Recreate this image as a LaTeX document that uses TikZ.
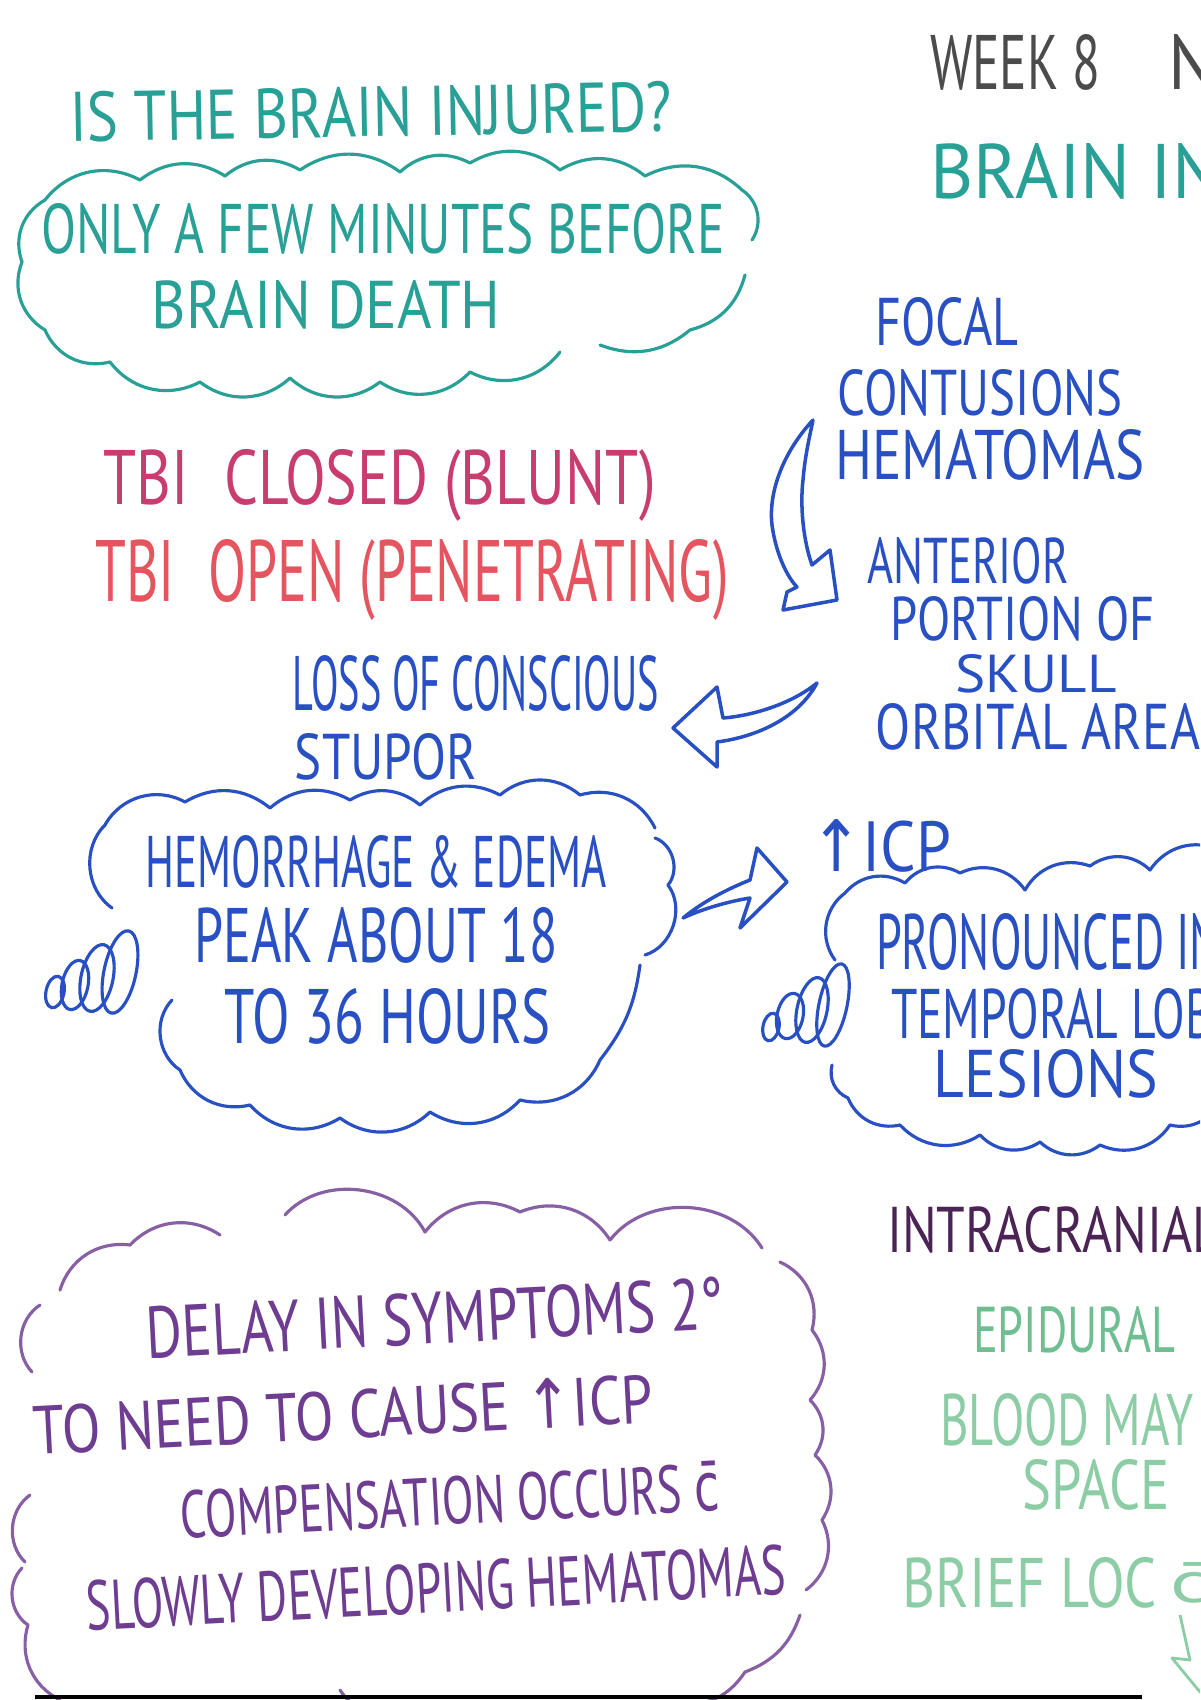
\documentclass[tikz,border=0pt]{standalone}
\usepackage{fontspec}
\setmainfont{PT Sans}
\newfontfamily\symf{DejaVu Sans}
\usepackage{graphicx}
\newlength\pxl
\setlength\pxl{0.02cm}
\newcommand\hw[3]{\resizebox{#1\pxl}{#2\pxl}{#3}}
\definecolor{tealc}{RGB}{40,160,150}
\definecolor{bluec}{RGB}{40,80,195}
\definecolor{crim}{RGB}{200,60,110}
\definecolor{redc}{RGB}{228,85,95}
\definecolor{purp}{RGB}{110,60,145}
\definecolor{purpl}{RGB}{135,95,165}
\definecolor{dpurp}{RGB}{75,35,85}
\definecolor{greenc}{RGB}{110,190,145}
\definecolor{greenl}{RGB}{140,205,165}
\definecolor{grayc}{RGB}{75,75,75}
\tikzset{
  txt/.style={inner sep=0pt, outer sep=0pt},
  cloudline/.style={line width=1.8pt, line cap=round, line join=round},
  fatarrow/.style={line width=2pt, line cap=round, line join=round, bluec},
}
\begin{document}
\begin{tikzpicture}[x=0.02cm,y=0.02cm]
\useasboundingbox (0,0) rectangle (1200,-1700);
\fill[white] (0,0) rectangle (1200,-1700);
\clip (0,0) rectangle (1200,-1700);

% ---------- top left teal ----------
\node[txt,tealc,rotate=1] (q) at (371,-112) {\hw{602}{50}{IS THE BRAIN INJURED?}};
\node[txt,tealc] (few) at (383,-229) {\hw{683}{50}{ONLY A FEW MINUTES BEFORE}};
\node[txt,tealc] (death) at (326,-305) {\hw{349}{48}{BRAIN DEATH}};
\draw[cloudline,tealc] (140,-180) to[bend left=35] (225,-176) to[bend left=35] (300,-170)
  to[bend left=35] (400,-172) to[bend left=35] (470,-163) to[bend left=35] (560,-170)
  to[bend left=35] (645,-176) to[bend left=35] (742,-190) to[bend left=45] (752,-240);
\draw[cloudline,tealc] (745,-275) to[bend left=30] (690,-330) to[bend left=30] (600,-345);
\draw[cloudline,tealc] (560,-352) to[bend left=40] (470,-372) to[bend left=40] (380,-382)
  to[bend left=40] (290,-378) to[bend left=40] (200,-382) to[bend left=40] (110,-362)
  to[bend left=40] (45,-330) to[bend left=40] (22,-262) to[bend left=40] (45,-200)
  to[bend left=40] (140,-180);

% ---------- top right ----------
\node[txt,grayc,anchor=west] (week) at (930,-62) {\hw{170}{55}{WEEK 8}};
\node[txt,grayc,anchor=west] (wn) at (1168,-62) {\hw{48}{55}{N}};
\node[txt,tealc,anchor=west] (brin) at (930,-171) {\hw{292}{55}{BRAIN IN}};

% ---------- blue right column ----------
\node[txt,bluec] (focal) at (947,-322) {\hw{143}{48}{FOCAL}};
\node[txt,bluec] (cont) at (980,-393) {\hw{285}{46}{CONTUSIONS}};
\node[txt,bluec] (hema) at (990,-455) {\hw{309}{50}{HEMATOMAS}};
\node[txt,bluec] (ant) at (968,-561) {\hw{201}{46}{ANTERIOR}};
\node[txt,bluec] (port) at (1023,-619) {\hw{264}{44}{PORTION OF}};
\node[txt,bluec] (skull) at (1036,-674) {\hw{161}{38}{SKULL}};
\node[txt,bluec] (orb) at (1038,-727) {\hw{324}{46}{ORBITAL AREA}};

% curved hollow arrow down
\draw[fatarrow] (813,-420) .. controls (785,-450) and (768,-490) .. (772,-525)
  .. controls (776,-555) and (788,-578) .. (797,-587) -- (787,-592) -- (783,-610)
  -- (837,-600) -- (830,-550) -- (812,-565)
  .. controls (803,-540) and (800,-505) .. (803,-480)
  .. controls (805,-455) and (810,-435) .. (813,-420);

% ---------- red ----------
\node[txt,crim] (tbi1) at (380,-485) {\hw{553}{55}{TBI\hspace{0.6em}CLOSED (BLUNT)}};
\node[txt,redc] (tbi2) at (412,-580) {\hw{633}{62}{TBI\hspace{0.6em}OPEN (PENETRATING)}};

% ---------- loss of conscious ----------
\node[txt,bluec] (loss) at (476,-683) {\hw{366}{55}{LOSS OF CONSCIOUS}};
\node[txt,bluec] (stup) at (386,-757) {\hw{182}{46}{STUPOR}};
% left hollow arrow
\draw[fatarrow] (817,-683) .. controls (790,-705) and (750,-716) .. (723,-718)
  -- (717,-687) -- (673,-728) -- (717,-767) -- (717,-742)
  .. controls (762,-736) and (800,-715) .. (817,-683);

% ---------- blue cloud 1 ----------
\node[txt,bluec] (hem) at (376,-862) {\hw{461}{52}{HEMORRHAGE \& EDEMA}};
\node[txt,bluec] (peak) at (376,-935) {\hw{363}{55}{PEAK ABOUT 18}};
\node[txt,bluec] (hrs) at (388,-1016) {\hw{326}{55}{TO 36 HOURS}};
\draw[cloudline,bluec] (112,-908) to[bend left=50] (105,-825) to[bend left=45] (185,-802)
  to[bend left=35] (270,-808) to[bend left=35] (350,-800) to[bend left=35] (420,-805)
  to[bend left=35] (500,-795) to[bend left=40] (580,-795) to[bend left=40] (655,-828);
\draw[cloudline,bluec] (655,-838) to[bend left=55] (668,-885) to[bend left=55] (645,-955);
\draw[cloudline,bluec] (640,-965) to[bend left=15] (600,-1060) to[bend left=40] (520,-1100)
  to[bend left=40] (430,-1112) to[bend left=40] (340,-1118) to[bend left=40] (250,-1105)
  to[bend left=40] (180,-1070) to[bend left=50] (172,-1000);
\foreach \cx/\cy/\rx/\ry in {120/972/16/42, 97/978/16/34, 75/985/13/25, 55/992/9/16}
  \draw[line width=1.8pt,bluec,rotate around={-12:(\cx,-\cy)}] (\cx,-\cy) ellipse[x radius=\rx, y radius=\ry];

% arrow right to ICP
\draw[fatarrow] (683,-918) .. controls (705,-900) and (730,-888) .. (750,-880)
  -- (757,-848) -- (787,-882) -- (740,-928) -- (750,-898)
  .. controls (725,-902) and (700,-910) .. (683,-918);

% ---------- blue cloud 2 ----------
\node[txt,bluec] (icp) at (881,-846) {\hw{141}{52}{{\symf↑}ICP}};
\node[txt,bluec,anchor=west] (pron) at (876,-942) {\hw{345}{56}{PRONOUNCED IN}};
\node[txt,bluec,anchor=west] (temp) at (891,-1014) {\hw{322}{50}{TEMPORAL LOB}};
\node[txt,bluec] (les) at (1046,-1074) {\hw{224}{48}{LESIONS}};
\draw[cloudline,bluec] (835,-960) to[bend left=45] (845,-893) to[bend left=40] (905,-883)
  to[bend left=40] (960,-873) to[bend left=40] (1025,-890) to[bend left=40] (1090,-866)
  to[bend left=40] (1150,-870) to[bend left=40] (1220,-850);
\draw[cloudline,bluec] (1220,-1100) to[bend left=40] (1170,-1125) to[bend left=40] (1100,-1145)
  to[bend left=40] (1040,-1142) to[bend left=40] (980,-1135) to[bend left=40] (900,-1125)
  to[bend left=40] (848,-1098) to[bend left=40] (832,-1065);
\foreach \cx/\cy/\rx/\ry in {833/1005/14/42, 812/1010/15/33, 790/1016/13/23, 771/1027/8/14}
  \draw[line width=1.8pt,bluec,rotate around={-12:(\cx,-\cy)}] (\cx,-\cy) ellipse[x radius=\rx, y radius=\ry];

% ---------- purple cloud ----------
\node[txt,purp,rotate=3] (delay) at (435,-1318) {\hw{578}{52}{DELAY IN SYMPTOMS 2°}};
\node[txt,purp,rotate=3] (need) at (343,-1414) {\hw{620}{50}{TO NEED TO CAUSE {\symf↑}ICP}};
\node[txt,purp,rotate=3] (comp) at (450,-1500) {\hw{540}{50}{COMPENSATION OCCURS {\symf\=c}}};
\node[txt,purp,rotate=3] (slow) at (436,-1588) {\hw{700}{50}{SLOWLY DEVELOPING HEMATOMAS}};
\draw[cloudline,purpl] (32,-1372) to[bend left=50] (40,-1305);
\draw[cloudline,purpl] (60,-1290) to[bend left=40] (130,-1245) to[bend left=40] (220,-1235);
\draw[cloudline,purpl] (285,-1215) to[bend left=55] (425,-1232) to[bend left=40] (520,-1212)
  to[bend left=40] (610,-1240) to[bend left=55] (762,-1248);
\draw[cloudline,purpl] (780,-1262) to[bend left=40] (812,-1330) to[bend left=40] (810,-1400)
  to[bend left=40] (815,-1455) to[bend left=40] (822,-1520) to[bend left=40] (806,-1590);
\draw[cloudline,purpl] (800,-1615) to[bend left=25] (745,-1672) to[bend left=25] (690,-1705);
\draw[cloudline,purpl] (25,-1562) to[bend left=50] (30,-1495);
\draw[cloudline,purpl] (60,-1700) to[bend left=40] (28,-1625) to[bend left=50] (22,-1568);
\draw[cloudline,purpl] (470,-1705) to[bend left=50] (340,-1690);

% ---------- bottom right ----------
\node[txt,dpurp,anchor=west] (intra) at (887,-1230) {\hw{332}{46}{INTRACRANIAL}};
\node[txt,greenc] (epi) at (1074,-1330) {\hw{202}{46}{EPIDURAL}};
\node[txt,greenl] (blood) at (1067,-1420) {\hw{253}{52}{BLOOD MAY}};
\node[txt,greenl] (space) at (1096,-1485) {\hw{147}{50}{SPACE}};
\node[txt,greenl] (brief) at (1030,-1583) {\hw{254}{50}{BRIEF LOC}};
\node[txt,greenl,anchor=west] (briefc) at (1170,-1583) {\hw{40}{40}{{\symf\=c}}};
\draw[line width=1.6pt,greenl,line join=round] (1180,-1615) -- (1190,-1660) -- (1172,-1658)
  -- (1200,-1692) -- (1215,-1655);

% bottom border line
\draw[line width=2.8pt,black] (35,-1697) -- (1142,-1697);
\end{tikzpicture}
\end{document}
